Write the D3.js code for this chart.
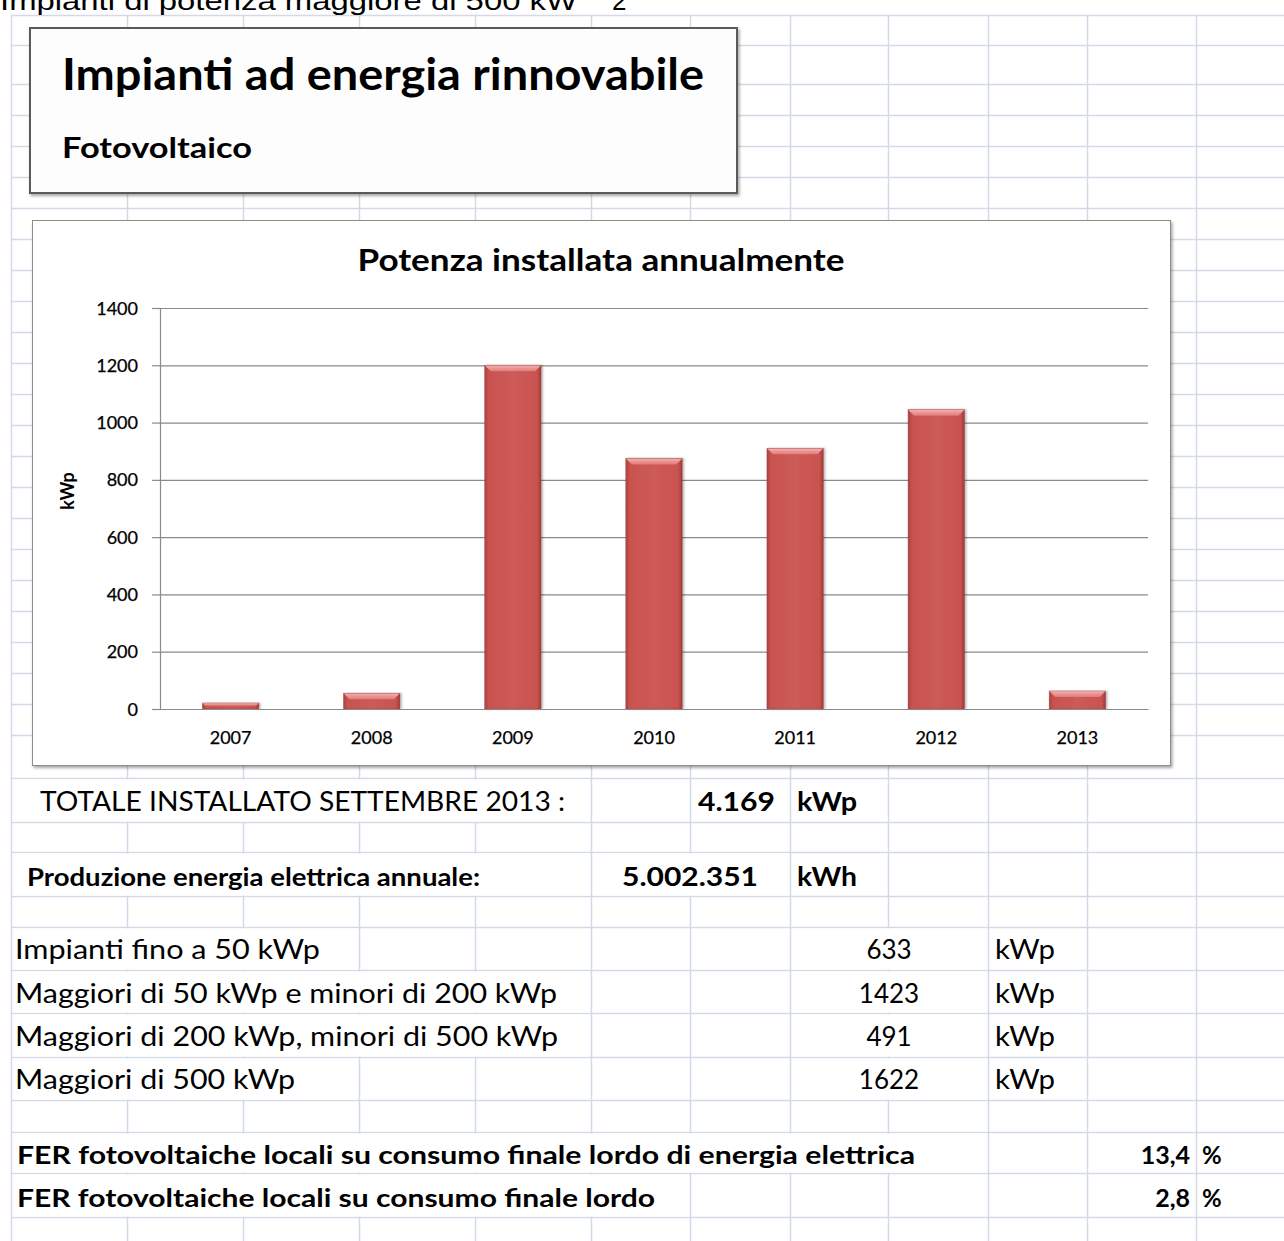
<!DOCTYPE html>
<html><head><meta charset="utf-8">
<script src="https://cdn.jsdelivr.net/npm/d3@7"></script>
<style>
html,body{margin:0;padding:0;background:#fff;}
svg{display:block;}
text{font-family:Lato,"Open Sans",sans-serif;fill:#000;}
</style></head><body>
<svg id="sheet" width="1284" height="1241"></svg>
<script>
// Potenza fotovoltaica installata per anno (kWp)
const years = ["2007", "2008", "2009", "2010", "2011", "2012", "2013"];
const kwpInstalled = [21, 55, 1200, 875, 910, 1045, 63];
const yTicks = [0, 200, 400, 600, 800, 1000, 1200, 1400];

// Riepilogo
const totalLabel = "TOTALE INSTALLATO SETTEMBRE 2013 :";
const totalValue = "4.169";
const prodLabel = "Produzione energia elettrica annuale:";
const prodValue = "5.002.351";
const sizeClasses = ["Impianti fino a 50 kWp", "Maggiori di 50 kWp e minori di 200 kWp",
  "Maggiori di 200 kWp, minori di 500 kWp", "Maggiori di 500 kWp"];
const sizeClassKwp = [633, 1423, 491, 1622];
const ferLabels = ["FER fotovoltaiche locali su consumo finale lordo di energia elettrica",
  "FER fotovoltaiche locali su consumo finale lordo"];
const ferValues = ["13,4", "2,8"];

const svg = d3.select("#sheet");
const W = 1284, H = 1241;

// ---------- griglia del foglio ----------
const colX = [11, 127, 243, 359, 475, 591, 690, 790, 888, 988, 1087, 1196];
const rowY = [15, 45, 84, 115, 146, 177, 208];
for (let k = 0; k <= 16; k++) rowY.push(239 + 31 * k);
rowY.push(778, 822, 852, 896, 927, 970, 1013, 1057, 1100, 1132, 1173, 1217);

const gridColor = "#D3DAE7";
const grid = svg.append("g");
grid.selectAll("line.v").data(colX).join("line")
  .attr("x1", d => d + 0.5).attr("x2", d => d + 0.5).attr("y1", 15).attr("y2", H)
  .attr("stroke", gridColor).attr("stroke-width", 1.5);
grid.selectAll("line.h").data(rowY).join("line")
  .attr("x1", 11).attr("x2", W).attr("y1", d => d + 0.5).attr("y2", d => d + 0.5)
  .attr("stroke", gridColor).attr("stroke-width", 1.5);

// testo che deborda nelle celle adiacenti nasconde la griglia
function clearCells(x0, x1, y0, y1) {
  svg.append("rect").attr("x", x0 + 2).attr("y", y0 + 1.5)
    .attr("width", x1 - x0 - 3).attr("height", y1 - y0 - 2).attr("fill", "#fff");
}
clearCells(11, 591, 778, 822);
clearCells(11, 591, 852, 896);
clearCells(591, 790, 852, 896);
const classRows = [[927, 970], [970, 1013], [1013, 1057], [1057, 1100]];
const classSpan = [359, 591, 591, 359];
classRows.forEach((r, i) => { clearCells(11, classSpan[i], r[0], r[1]); clearCells(790, 988, r[0], r[1]); });
clearCells(11, 988, 1132, 1173);
clearCells(11, 690, 1173, 1217);

// ---------- effetti ----------
const defs = svg.append("defs");
const sh = defs.append("filter").attr("id", "shadow").attr("x", "-5%").attr("y", "-5%").attr("width", "110%").attr("height", "115%");
sh.append("feDropShadow").attr("dx", 1.5).attr("dy", 2).attr("stdDeviation", 1.5)
  .attr("flood-color", "#000").attr("flood-opacity", 0.35);
const bsh = defs.append("filter").attr("id", "barShadow").attr("x", "-20%").attr("y", "-5%").attr("width", "140%").attr("height", "110%");
bsh.append("feDropShadow").attr("dx", 1.5).attr("dy", 0).attr("stdDeviation", 1.2)
  .attr("flood-color", "#000").attr("flood-opacity", 0.3);

const gBody = defs.append("linearGradient").attr("id", "barBody").attr("x1", 0).attr("x2", 1).attr("y1", 0).attr("y2", 0);
[[0, "#A84240"], [0.07, "#C9524F"], [0.5, "#CD5B58"], [0.93, "#C9524F"], [1, "#9E3B39"]]
  .forEach(([o, c]) => gBody.append("stop").attr("offset", o).attr("stop-color", c));
const gTop = defs.append("linearGradient").attr("id", "barTop").attr("x1", 0).attr("x2", 0).attr("y1", 0).attr("y2", 1);
[[0, "#F4B3B1"], [1, "#DE7B78"]].forEach(([o, c]) => gTop.append("stop").attr("offset", o).attr("stop-color", c));

// testo con larghezza assegnata
function label(x, y, str, o) {
  const t = svg.append("text").attr("x", x).attr("y", y).text(str)
    .attr("font-size", o.size).attr("font-weight", o.weight || "normal")
    .attr("text-anchor", o.anchor || "start");
  if (o.family) t.style("font-family", o.family);
  if (o.width) t.attr("textLength", o.width).attr("lengthAdjust", "spacingAndGlyphs");
  return t;
}

// ---------- didascalia in alto (riga precedente, tagliata dal bordo) ----------
label(0, 10, "Impianti di potenza maggiore di 500 kW", { size: 26, family: "'Liberation Sans',Arial,sans-serif", width: 577 });
label(612, 10, "2", { size: 26, family: "'Liberation Sans',Arial,sans-serif" });

// ---------- riquadro titolo ----------
svg.append("rect").attr("x", 30).attr("y", 28).attr("width", 707).attr("height", 165)
  .attr("fill", "#FDFDFD").attr("stroke", "#5A5A5A").attr("stroke-width", 2).attr("filter", "url(#shadow)");
label(62, 90, "Impianti ad energia rinnovabile", { size: 43, weight: "bold", width: 642 });
label(62, 158, "Fotovoltaico", { size: 29, weight: "bold", width: 190 });

// ---------- grafico ----------
svg.append("rect").attr("x", 32.5).attr("y", 220.5).attr("width", 1138).attr("height", 545)
  .attr("fill", "#fff").attr("stroke", "#8C8C8C").attr("stroke-width", 1).attr("filter", "url(#shadow)");
label(601, 271, "Potenza installata annualmente", { size: 30, weight: "bold", anchor: "middle", width: 487 });

const plotL = 160, plotR = 1148, plotT = 308, plotB = 709;
const y = d3.scaleLinear().domain([0, 1400]).range([plotB, plotT]);
const x = d3.scaleBand().domain(years).range([plotL, plotR]).paddingInner(0.6).paddingOuter(0.3);

// linee di griglia
const gridG = svg.append("g").attr("transform", `translate(${plotL},0)`)
  .call(d3.axisLeft(y).tickValues(yTicks).tickSize(-(plotR - plotL)).tickFormat(""));
gridG.selectAll("line").attr("stroke", "#8A8A8A").attr("stroke-width", 1.2);
gridG.select(".domain").remove();

// asse Y
const yAxis = svg.append("g").attr("transform", `translate(${plotL},0)`)
  .call(d3.axisLeft(y).tickValues(yTicks).tickFormat(d3.format("d"))
    .tickSize(8).tickSizeOuter(0).tickPadding(14));
yAxis.select(".domain").attr("stroke", "#8A8A8A").attr("stroke-width", 1.2);
yAxis.selectAll("line").attr("stroke", "#8A8A8A").attr("stroke-width", 1.2);
yAxis.selectAll("text").attr("font-size", 18).style("font-family", "Lato,sans-serif")
  .attr("fill", "#000").attr("dy", "0.34em").attr("stroke", "#000").attr("stroke-width", 0.25);

svg.append("text").attr("transform", "translate(74,491) rotate(-90)")
  .attr("text-anchor", "middle").attr("font-size", 18).attr("font-weight", "bold").text("kWp");

// barre
const bars = svg.append("g");
years.forEach((yr, i) => {
  const v = kwpInstalled[i];
  const bx = x(yr), bw = x.bandwidth(), by = y(v), bh = y(0) - y(v);
  const g = bars.append("g").attr("filter", "url(#barShadow)");
  g.append("rect").attr("x", bx).attr("y", by).attr("width", bw).attr("height", bh).attr("fill", "url(#barBody)");
  const bev = Math.min(6, bh * 0.45);
  g.append("polygon")
    .attr("points", `${bx},${by} ${bx + bw},${by} ${bx + bw - bev},${by + bev} ${bx + bev},${by + bev}`)
    .attr("fill", "url(#barTop)");
  g.append("rect").attr("x", bx).attr("y", by).attr("width", bw).attr("height", bh)
    .attr("fill", "none").attr("stroke", "#9C3A38").attr("stroke-width", 0.6).attr("stroke-opacity", 0.6);
});

// asse X
const xAxis = svg.append("g").attr("transform", `translate(0,${plotB})`)
  .call(d3.axisBottom(x).tickSize(0).tickPadding(22));
xAxis.select(".domain").attr("stroke", "#8A8A8A").attr("stroke-width", 1.2);
xAxis.selectAll("text").attr("font-size", 18).style("font-family", "Lato,sans-serif")
  .attr("fill", "#000").attr("stroke", "#000").attr("stroke-width", 0.25);

// ---------- riepilogo ----------
label(40, 811, totalLabel, { size: 26, width: 525 });
label(775, 811, totalValue, { size: 26, weight: "bold", anchor: "end", width: 77 });
label(797, 811, "kWp", { size: 26, weight: "bold", width: 60 });

label(27, 886, prodLabel, { size: 24, weight: "bold", width: 453 });
label(758, 886, prodValue, { size: 26, weight: "bold", anchor: "end", width: 136 });
label(797, 886, "kWh", { size: 26, weight: "bold", width: 60 });

const classCenters = [950, 994, 1037, 1080];
const classWidths = [305, 542, 543, 280];
sizeClasses.forEach((s, i) => {
  label(15, classCenters[i] + 9, s, { size: 26, width: classWidths[i] });
  label(889, classCenters[i] + 9, String(sizeClassKwp[i]), { size: 26, anchor: "middle" });
  label(995, classCenters[i] + 9, "kWp", { size: 26, width: 60 });
});

const ferCenters = [1155, 1198];
const ferWidths = [898, 638];
ferLabels.forEach((s, i) => {
  label(17, ferCenters[i] + 9, s, { size: 25, weight: "bold", width: ferWidths[i] });
  label(1190, ferCenters[i] + 9, ferValues[i], { size: 25, weight: "bold", anchor: "end" });
  label(1202, ferCenters[i] + 9, "%", { size: 24, weight: "bold" });
});
</script>
</body></html>
